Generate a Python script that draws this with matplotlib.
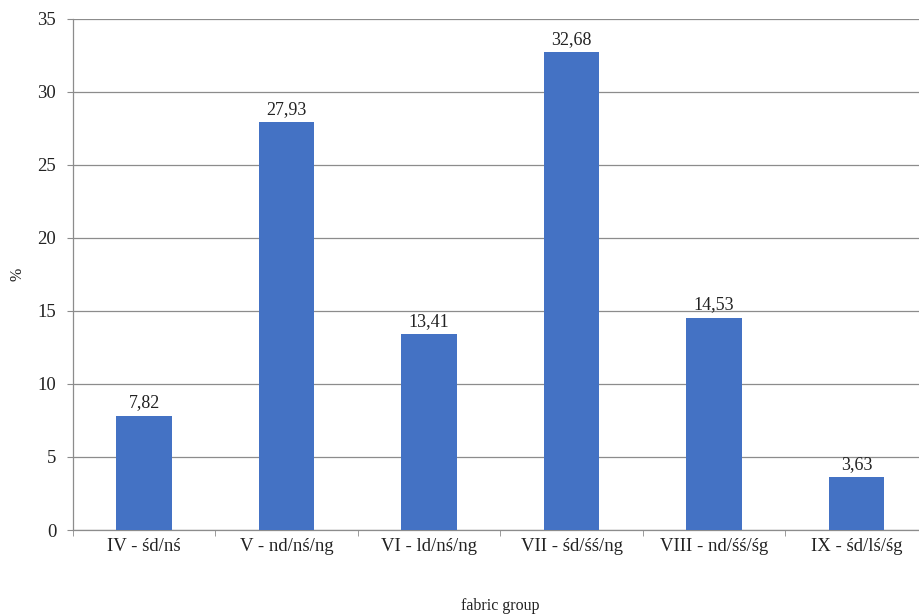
import matplotlib.pyplot as plt
import numpy as np

# fabric groups and their share in %
groups = ["IV - śd/nś", "V - nd/nś/ng", "VI - ld/nś/ng",
          "VII - śd/śś/ng", "VIII - nd/śś/śg", "IX - śd/lś/śg"]
shares = [7.82, 27.93, 13.41, 32.68, 14.53, 3.63]
y_ticks = [0, 5, 10, 15, 20, 25, 30, 35]

plt.rcParams['font.family'] = ['Liberation Serif', 'DejaVu Serif']

fig = plt.figure(figsize=(9.19, 6.14), dpi=100)
ax = fig.add_axes([0.0794, 0.1368, 0.930, 0.833])

x = np.arange(len(groups))
bars = ax.bar(x, shares, width=0.39, color='#4472C4', zorder=3)

for xi, v in zip(x, shares):
    ax.annotate(f"{v:.2f}".replace('.', ','), (xi, v), xytext=(0, 3),
                textcoords='offset points', ha='center', va='bottom',
                fontsize=13, color='#222222')

ax.set_xlim(-0.5, len(groups) - 0.5)
ax.set_ylim(0, 35)
ax.set_yticks(y_ticks)
ax.set_yticklabels([str(t) for t in y_ticks], fontsize=13.5, color='#222222')
ax.yaxis.grid(True, color='#8c8c8c', linewidth=0.9, zorder=0)

# labels at bar centers, tick marks at group boundaries
ax.set_xticks(x)
ax.set_xticklabels(groups, fontsize=13.5, color='#222222')
ax.tick_params(axis='x', which='major', length=0, pad=6)
ax.set_xticks(np.arange(len(groups) + 1) - 0.5, minor=True)
ax.tick_params(axis='x', which='minor', length=4, color='#8c8c8c')
ax.tick_params(axis='y', length=4, color='#8c8c8c', pad=8)

for side in ['top', 'right']:
    ax.spines[side].set_visible(False)
for side in ['left', 'bottom']:
    ax.spines[side].set_color('#8c8c8c')
    ax.spines[side].set_linewidth(0.9)

ax.set_xlabel("fabric group", fontsize=11.5, color='#222222', labelpad=31)
ax.set_ylabel("%", fontsize=11.5, color='#222222', labelpad=9)

fig.savefig("out.png", dpi=100)
